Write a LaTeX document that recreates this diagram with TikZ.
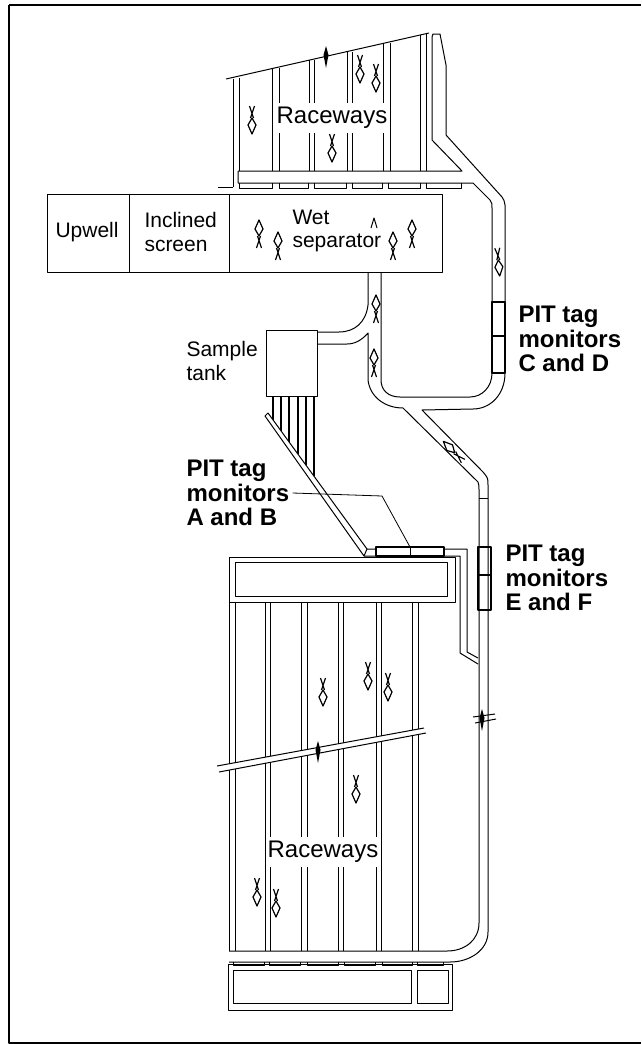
\documentclass[tikz,border=0pt]{standalone}
\usepackage{fontspec}
\setmainfont{Liberation Sans}
\begin{document}
\begin{tikzpicture}[x=1pt,y=-1pt,line width=1pt,line join=round,
    etichetta/.style={font=\fontsize{21}{23.5}\selectfont,align=left,anchor=west,inner sep=0pt},
    monitor/.style={font=\bfseries\fontsize{24}{24.3}\selectfont,align=left,anchor=west,inner sep=0pt},
    vasche/.style={font=\fontsize{24}{25}\selectfont,fill=white,inner xsep=1pt,inner ysep=0pt,minimum height=30pt},
    tagbox/.style={line width=2pt},
    pesce/.pic={
        \draw[line width=1.2pt] (0,-8) -- (4,-1) -- (0,8) -- (-4,-1) -- cycle;
        \draw[line width=1.2pt] (-1.5,-8) -- (2.5,-20) (1.5,-8) -- (-2.5,-20);
    },
    pesceneero/.pic={
        \fill (0,-11) -- (2.5,-2) -- (0,11) -- (-2.5,-2) -- cycle;
    }]
    \useasboundingbox (0,0) rectangle (641,1044);

    % cornice
    \draw[line width=1.8pt] (9,5) -- (641,5);
    \draw[line width=1.6pt] (9,5) -- (9,1043) -- (641,1043);

    % vasche in alto
    \draw (233,79) -- (233,187) (239,78) -- (239,171);
    \foreach \xa/\xb/\ya in {272/279/68,309/314/60,347/352/52,383/390/43} {
        \draw (\xa,\ya) -- (\xa,171) (\xb,\ya) -- (\xb,171);
    }
    \draw (420,35) -- (420,171) (426,34) -- (426,171);
    \node[vasche] (vascheA) at (332,118) {Raceways};
    \draw (226,79) -- (429,33);

    % canale in alto
    \draw (238,171) -- (238,183) -- (473,183) -- (490,200)
        .. controls (492,203) .. (492,210) -- (492,373)
        .. controls (492,387) and (482,397) .. (470,397) -- (400,397)
        .. controls (388,397) and (381,390) .. (381,380) -- (381,272);
    \draw (238,171) -- (462,171) -- (432,140) -- (432,37) -- (433,34) -- (440,34)
        -- (446,65) -- (446,135) -- (502,197) .. controls (504,200) .. (505,205) -- (505,373)
        .. controls (505,395) and (490,409) .. (473,409) -- (422,410) -- (483,472)
        .. controls (488,478) .. (488,485) -- (488,932)
        .. controls (488,950) and (470,962) .. (450,962) -- (229,962);
    \draw (218,187) -- (233,187);
    \foreach \xa/\xb in {239/272,279/308,314/346,352/382,388/420,426/461} {
        \draw (\xa,183) -- (\xa,188) -- (\xb,188) -- (\xb,183);
    }

    % separatore
    \draw (47,194) rectangle (442,272);
    \draw (129,194) -- (129,272) (229,194) -- (229,272);
    \node[etichetta] (upwell) at (55,232) {Upwell};
    \node[etichetta] (screen) at (144,232) {Inclined\\screen};
    \node[etichetta] (wet) at (292,231) {Wet\\separator};
    \draw (371,228) -- (374,218) -- (377,228);

    % vasca campione
    \draw (266,330) rectangle (317,396);
    \draw (368,272) -- (368,305) .. controls (366,322) and (355,332) .. (339,332) -- (317,332);
    \draw (317,344) -- (347,344) .. controls (355,344) and (362,340) .. (368,333) -- (368,380)
        .. controls (370,397) and (385,408) .. (403,408) -- (478,482)
        .. controls (479,485) .. (479,492) -- (479,923)
        .. controls (479,940) and (465,951) .. (447,951) -- (229,951);
    \draw (479,498) -- (488,498);
    \node[etichetta] (sample) at (186,361) {Sample\\tank};
    \foreach \xa/\ya in {273/420,281/431,289/442,298/454,306/465,314/476} {
        \draw[line width=2.8pt] (\xa,396) -- (\xa,\ya);
    }

    % tubo verso i monitor A e B
    \draw[fill=white] (268,413) -- (367,549) -- (364,556) -- (265,416) -- cycle;
    \draw (367,549) -- (467,549) -- (467,652) -- (478,658);
    \draw (364,556) -- (460,556) -- (460,653) -- (478,664);

    % vasche in basso
    \draw (229,557) rectangle (455,602);
    \draw (235,562) rectangle (447,596);
    \draw (229,602) -- (229,951) (235,602) -- (235,951);
    \foreach \xa/\xb in {265/270,301/307,338/343,376/381,412/418} {
        \draw (\xa,602) -- (\xa,951) (\xb,602) -- (\xb,951);
    }
    \node[vasche] (vascheB) at (323,852) {Raceways};
    \fill[white] (217,766) -- (424,728) -- (426,733) -- (219,772) -- cycle;
    \draw (217,766) -- (424,728) (219,772) -- (426,733);
    \foreach \xa/\xb in {233/264,269/300,307/338,344/375,382/412,417/443} {
        \draw (\xa,962) -- (\xa,965) -- (\xb,965) -- (\xb,962);
    }
    \draw (228,964) rectangle (452,1010);
    \draw (233,970) rectangle (411,1003);
    \draw (417,970) rectangle (448,1003);

    % interruzione del tubo
    \draw (473,717) -- (495,714) (475,723) -- (496,719);

    % PIT tag
    \draw[tagbox] (492,302) rectangle (505,373) (492,336) -- (505,336);
    \draw[tagbox] (478,547) rectangle (491,610) (478,575) -- (491,575);
    \draw[tagbox,fill=white] (376,547) rectangle (444,556);
    \draw (410,547) -- (410,556);
    \node[monitor] (monCD) at (518,339) {PIT tag\\monitors\\C and D};
    \node[monitor] (monEF) at (505,578) {PIT tag\\monitors\\E and F};
    \node[monitor] (monAB) at (186,493) {PIT tag\\monitors\\A and B};
    \coordinate (gomito) at (382,496);
    \coordinate (tagAB) at (410,547);
    \draw[line width=0.8pt] (monAB.east) ++(3,0) -- (gomito) -- (tagAB);

    % pesci
    \foreach \xa/\ya/\ang in {252/126/0,360/75/0,376/84/0,332/154/0,
        323/698/0,368/682/0,388/693/0,356/795/0,257/898/0,276/909/0,
        499/268/5,
        259/228/180,278/240/180,393/240/180,412/228/180,376/303/180,374/357/180,
        449/447/-135} {
        \pic[rotate=\ang] at (\xa,\ya) {pesce};
    }
    \pic at (326,57) {pesceneero};
    \pic at (318,752) {pesceneero};
    \pic at (482,720) {pesceneero};
\end{tikzpicture}
\end{document}
